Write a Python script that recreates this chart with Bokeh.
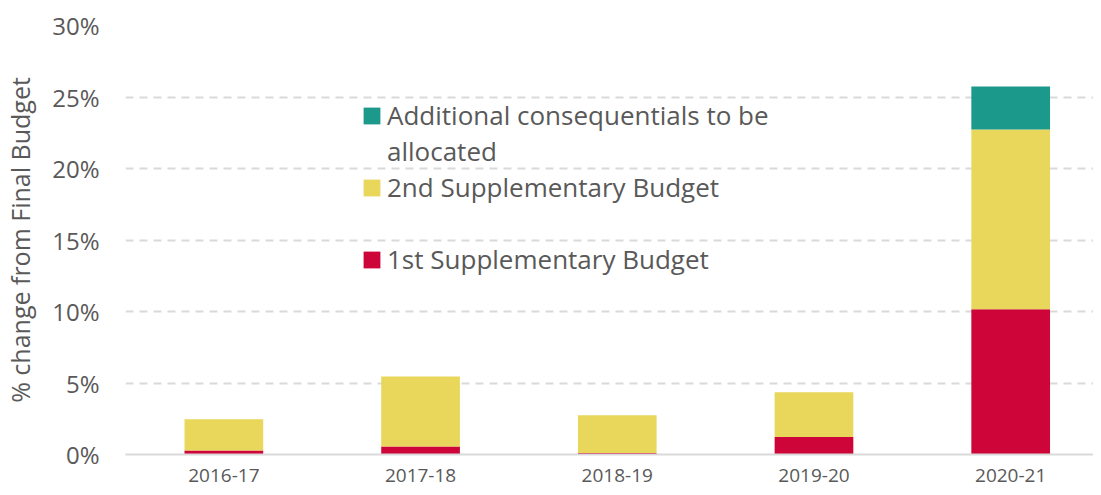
from bokeh.plotting import figure
from bokeh.models import (ColumnDataSource, Range1d, FixedTicker, PrintfTickFormatter,
                          Legend, LegendItem)
from bokeh.embed import file_html
from bokeh.resources import INLINE

years = ["2016-17", "2017-18", "2018-19", "2019-20", "2020-21"]
first_supp = [0.28, 0.56, 0.10, 1.23, 10.16]
second_supp = [2.19, 4.89, 2.65, 3.13, 12.57]
additional = [0.0, 0.0, 0.0, 0.0, 3.0]
y_ticks = [0, 5, 10, 15, 20, 25, 30]
series = ["first_supp", "second_supp", "additional"]
labels = ["1st Supplementary Budget", "2nd Supplementary Budget",
          "Additional consequentials to be", "allocated"]
colors = ["#cd0538", "#e8d75a", "#1b998a"]

FONT = "Open Sans"
TXT = "#595959"

src = ColumnDataSource(dict(x=list(range(len(years))), first_supp=first_supp,
                            second_supp=second_supp, additional=additional))

p = figure(width=1093, height=487, output_backend="svg", toolbar_location=None,
           x_range=Range1d(-0.5, 4.421), y_range=Range1d(0, 30),
           min_border_left=124, min_border_right=0, min_border_top=25,
           min_border_bottom=33)
p.outline_line_color = None
p.background_fill_color = "white"
p.border_fill_color = "white"

rs = p.vbar_stack(series, x="x", width=0.4, source=src, color=colors, line_color=None)
# invisible renderer used only for the wrapped / blank legend lines
blank = p.scatter(x=[], y=[], alpha=0)

# axes
p.xaxis.ticker = FixedTicker(ticks=list(range(len(years))))
p.xaxis.major_label_overrides = {i: y for i, y in enumerate(years)}
p.xaxis.axis_line_color = "#d9d9d9"
p.xaxis.axis_line_width = 2
p.xaxis.major_tick_line_color = None
p.xaxis.minor_tick_line_color = None
p.xaxis.major_label_standoff = 8
p.xaxis.major_label_text_font = FONT
p.xaxis.major_label_text_font_size = "19px"
p.xaxis.major_label_text_color = TXT

p.yaxis.ticker = FixedTicker(ticks=y_ticks)
p.yaxis.formatter = PrintfTickFormatter(format="%d%%")
p.yaxis.axis_line_color = None
p.yaxis.major_tick_line_color = None
p.yaxis.minor_tick_line_color = None
p.yaxis.major_label_standoff = 20
p.yaxis.major_label_text_font = FONT
p.yaxis.major_label_text_font_size = "24px"
p.yaxis.major_label_text_color = TXT
p.yaxis.axis_label = "% change from Final Budget"
p.yaxis.axis_label_text_font = FONT
p.yaxis.axis_label_text_font_style = "normal"
p.yaxis.axis_label_text_font_size = "25px"
p.yaxis.axis_label_text_color = TXT
p.yaxis.axis_label_standoff = 12

p.xgrid.grid_line_color = None
p.ygrid.grid_line_color = "#d9d9d9"
p.ygrid.grid_line_width = 2
p.ygrid.grid_line_dash = "8 6"

leg = Legend(items=[LegendItem(label=labels[2], renderers=[rs[2]]),
                    LegendItem(label=labels[3], renderers=[blank]),
                    LegendItem(label=labels[1], renderers=[rs[1]]),
                    LegendItem(label=" ", renderers=[blank]),
                    LegendItem(label=labels[0], renderers=[rs[0]])],
             location=(236, 177))
leg.background_fill_alpha = 0
leg.border_line_color = None
leg.padding = 0
leg.margin = 0
leg.spacing = 0
leg.glyph_width = 21
leg.glyph_height = 21
leg.label_height = 36
leg.label_standoff = 5
leg.label_text_font = FONT
leg.label_text_font_size = "26px"
leg.label_text_color = TXT
p.add_layout(leg, "center")

open("out.html", "w").write(file_html(p, INLINE))
